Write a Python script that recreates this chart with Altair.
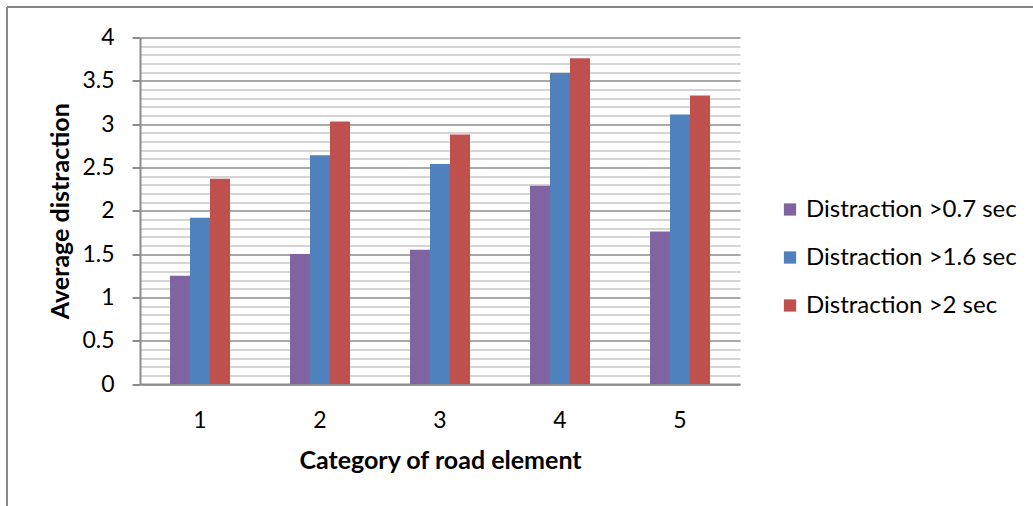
import altair as alt
import pandas as pd

# Average distraction per road-element category, one series per threshold
categories = ["1", "2", "3", "4", "5"]
series_names = ["Distraction >0.7 sec", "Distraction >1.6 sec", "Distraction >2 sec"]
over_07 = [1.25, 1.50, 1.55, 2.29, 1.76]
over_16 = [1.92, 2.64, 2.54, 3.59, 3.11]
over_2 = [2.37, 3.03, 2.88, 3.76, 3.33]
series_colors = ["#8064A2", "#4F81BD", "#C0504D"]

# y-axis ticks: a line every 0.1, labelled every 0.5
y_ticks = [round(i * 0.1, 1) for i in range(41)]

rows = []
for name, vals in zip(series_names, [over_07, over_16, over_2]):
    for cat, v in zip(categories, vals):
        rows.append({"category": cat, "series": name, "value": v})
df = pd.DataFrame(rows)

FONT = "Lato"
LABEL_SIZE = 23
LEGEND_SIZE = 24
TITLE_SIZE = 25
PLOT_W, PLOT_H = 600, 346.5
LEFT, TOP = 140, 37.5

major_test = "abs(datum.value * 2 - round(datum.value * 2)) < 0.001"

bars = alt.Chart(df).mark_bar().encode(
    x=alt.X(
        "category:N",
        sort=categories,
        scale=alt.Scale(paddingInner=0.5, paddingOuter=0.25),
        axis=alt.Axis(
            title="Category of road element",
            labelAngle=0,
            ticks=False,
            labelPadding=25,
            labelFontSize=LABEL_SIZE,
            labelColor="#000000",
            titleFontSize=TITLE_SIZE,
            titleFontWeight="bold",
            titleColor="#000000",
            titlePadding=16,
            domainColor="#8c8c8c",
            domainWidth=2,
            grid=False,
        ),
    ),
    xOffset=alt.XOffset("series:N", sort=series_names),
    y=alt.Y(
        "value:Q",
        scale=alt.Scale(domain=[0, 4], nice=False),
        axis=alt.Axis(
            title="Average distraction",
            values=y_ticks,
            labelExpr=f"{major_test} ? format(datum.value, '~g') : ''",
            labelFontSize=LABEL_SIZE,
            labelColor="#000000",
            labelPadding=18,
            tickSize=8,
            tickColor="#8c8c8c",
            tickWidth=2,
            tickOpacity={"condition": {"test": major_test, "value": 1}, "value": 0},
            grid=True,
            gridColor={"condition": {"test": major_test, "value": "#8c8c8c"}, "value": "#c6c6c6"},
            gridWidth=1.6,
            domainColor="#8c8c8c",
            domainWidth=2,
            titleFontSize=TITLE_SIZE,
            titleFontWeight="bold",
            titleColor="#000000",
            titlePadding=8,
        ),
    ),
    color=alt.Color(
        "series:N",
        sort=series_names,
        scale=alt.Scale(domain=series_names, range=series_colors),
        legend=alt.Legend(
            title=None,
            orient="none",
            legendX=638,
            legendY=160,
            symbolType="square",
            symbolSize=150,
            symbolStrokeWidth=0,
            labelFontSize=LEGEND_SIZE,
            labelColor="#000000",
            labelLimit=0,
            labelOffset=4,
            rowPadding=24,
        ),
    ),
)

# Outer chart frame (left and top edges)
frame_left = alt.Chart(df).mark_rule(color="#878787", strokeWidth=2).encode(
    x=alt.value(7 - LEFT), y=alt.value(7 - TOP), y2=alt.value(506 - TOP + 10)
)
frame_top = alt.Chart(df).mark_rule(color="#878787", strokeWidth=2).encode(
    x=alt.value(7 - LEFT), x2=alt.value(1033 - LEFT + 10), y=alt.value(7 - TOP)
)

chart = (
    alt.layer(bars, frame_left, frame_top)
    .properties(
        width=PLOT_W,
        height=PLOT_H,
        autosize=alt.AutoSizeParams(type="none"),
        padding={"left": LEFT, "top": TOP, "right": 1033 - LEFT - PLOT_W, "bottom": 506 - TOP - PLOT_H},
    )
    .configure(font=FONT)
    .configure_view(strokeWidth=0)
    .configure_axis(labelFont=FONT, titleFont=FONT)
    .configure_legend(labelFont=FONT)
)

chart.save("out.html", embed_options={"renderer": "svg", "actions": False})
